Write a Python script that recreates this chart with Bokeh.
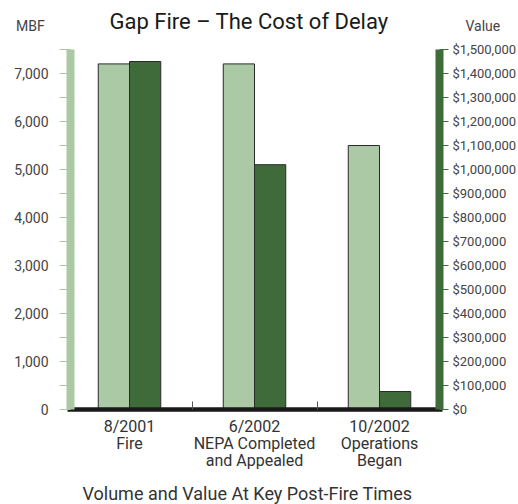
from bokeh.plotting import figure
from bokeh.models import (LinearAxis, Range1d, FixedTicker, Label, NumeralTickFormatter)
from bokeh.embed import file_html
from bokeh.resources import INLINE

# ---- data ----
title_text = "Gap Fire \u2013 The Cost of Delay"
subtitle_text = "Volume and Value At Key Post-Fire Times"
categories = ["8/2001\nFire", "6/2002\nNEPA Completed\nand Appealed", "10/2002\nOperations\nBegan"]
volume_mbf = [7200, 7200, 5500]
value_usd = [1450000, 1020000, 75000]
mbf_ticks = [0, 1000, 2000, 3000, 4000, 5000, 6000, 7000]
mbf_minor = [500, 1500, 2500, 3500, 4500, 5500, 6500, 7500]
usd_ticks = [i * 100000 for i in range(16)]
mbf_max = 7500
usd_max = 1500000

LIGHT = "#aac9a4"
DARK = "#3f6b3a"
FONT = "Roboto"

W, H = 518, 504
# layout (pixels): category band spans x0..x0+3*band, zero line at y0
x0, band = 66.5, 125.0
y0, ypx = 409.0, 360.0 / mbf_max   # pixels per MBF
n = len(categories)

centers = [i + 0.5 for i in range(n)]
x_light = [c - 0.125 for c in centers]
x_dark = [c + 0.125 for c in centers]

xr = Range1d(-x0 / band, (W - x0) / band)
yr = Range1d(-(H - y0) / ypx, y0 / ypx)
scale = usd_max / mbf_max

p = figure(width=W, height=H, output_backend="svg", toolbar_location=None,
           x_axis_type=None, y_axis_type=None, x_range=xr, y_range=yr,
           min_border_left=0, min_border_right=0, min_border_top=0, min_border_bottom=0)
p.extra_y_ranges = {"usd": Range1d(yr.start * scale, yr.end * scale)}
p.outline_line_color = None
p.grid.visible = False
p.background_fill_color = "white"
p.border_fill_color = "white"

p.vbar(x=x_light, top=volume_mbf, width=0.25, fill_color=LIGHT, line_color="#2a2a2a", line_width=1)
p.vbar(x=x_dark, top=value_usd, width=0.25, fill_color=DARK, line_color="#2a2a2a", line_width=1,
       y_range_name="usd")

left_at = (70 - x0) / band
right_at = (439 - x0) / band

# left axis
ly = LinearAxis(ticker=FixedTicker(ticks=mbf_ticks, minor_ticks=mbf_minor),
                formatter=NumeralTickFormatter(format="0,0"),
                fixed_location=left_at, bounds=(0, mbf_max))
ly.axis_line_color = LIGHT
ly.axis_line_width = 8
ly.major_tick_line_color = LIGHT
ly.minor_tick_line_color = LIGHT
ly.major_tick_out = 11
ly.major_tick_in = 0
ly.minor_tick_out = 11
ly.minor_tick_in = 0
ly.major_label_standoff = 11
ly.major_label_text_font = FONT
ly.major_label_text_font_size = "14px"
ly.major_label_text_color = "#444444"
p.add_layout(ly, "left")

# right axis
ry = LinearAxis(y_range_name="usd", ticker=FixedTicker(ticks=usd_ticks),
                formatter=NumeralTickFormatter(format="$0,0"),
                fixed_location=right_at, bounds=(0, usd_max))
ry.axis_line_color = DARK
ry.axis_line_width = 8
ry.major_tick_line_color = DARK
ry.major_tick_out = 9
ry.major_tick_in = 0
ry.minor_tick_line_color = None
ry.major_label_standoff = 4
ry.major_label_text_font = FONT
ry.major_label_text_font_size = "13px"
ry.major_label_text_color = "#444444"
p.add_layout(ry, "right")

# bottom axis (baseline + category labels)
bx = LinearAxis(ticker=FixedTicker(ticks=centers, minor_ticks=list(range(1, n))),
                fixed_location=0, bounds=(0, n))
bx.major_label_overrides = {c: lab for c, lab in zip(centers, categories)}
bx.axis_line_color = "#1a1a1a"
bx.axis_line_width = 4.5
bx.major_tick_line_color = None
bx.major_tick_out = 0
bx.major_tick_in = 0
bx.minor_tick_line_color = "#555555"
bx.minor_tick_in = 8
bx.minor_tick_out = 0
bx.major_label_standoff = 7
bx.major_label_text_font = FONT
bx.major_label_text_font_size = "16px"
bx.major_label_text_line_height = 0.91
bx.major_label_text_color = "#333333"
p.add_layout(bx, "below")

# texts (screen units: from the canvas bottom-left, since the frame fills the canvas)
p.add_layout(Label(x=109, y=H - 20.5, x_units="screen", y_units="screen", text=title_text,
                   text_font=FONT, text_font_size="22px", text_color="#1a1a1a",
                   text_align="left", text_baseline="alphabetic"))
p.add_layout(Label(x=247, y=H - 493, x_units="screen", y_units="screen", text=subtitle_text,
                   text_font=FONT, text_font_size="18px", text_color="#333333",
                   text_align="center", text_baseline="alphabetic"))
p.add_layout(Label(x=15.5, y=H - 25, x_units="screen", y_units="screen", text="MBF",
                   text_font=FONT, text_font_size="14px", text_color="#444444",
                   text_baseline="alphabetic"))
p.add_layout(Label(x=465, y=H - 25, x_units="screen", y_units="screen", text="Value",
                   text_font=FONT, text_font_size="14px", text_color="#444444",
                   text_baseline="alphabetic"))

open("out.html", "w").write(file_html(p, INLINE))
